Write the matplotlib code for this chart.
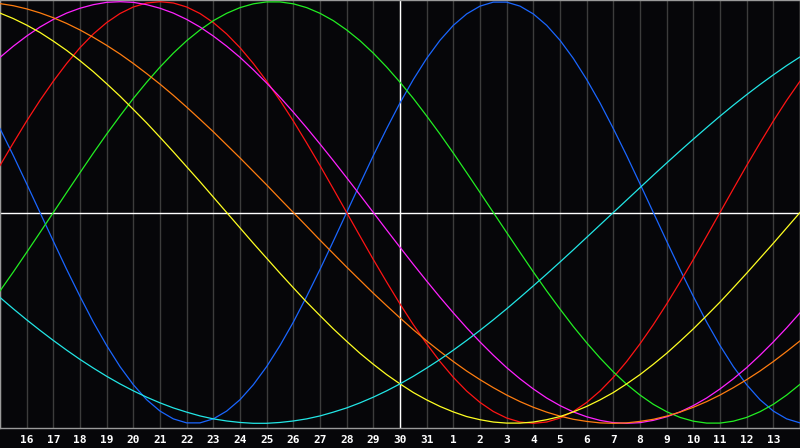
import matplotlib
matplotlib.use('Agg')
import matplotlib.pyplot as plt

# half-day steps from the centre day (30th), -15 .. +15
offsets = [i / 2 for i in range(-30, 31)]
# whole days for the grid and the calendar day shown under each
days = list(range(-15, 16))
day_labels = [15, 16, 17, 18, 19, 20, 21, 22, 23, 24, 25, 26, 27, 28, 29, 30, 31,
              1, 2, 3, 4, 5, 6, 7, 8, 9, 10, 11, 12, 13, 14]

# cycle values (-1 .. 1) every half day
physical = [0.398, 0.270, 0.136, 0.0, -0.136, -0.270, -0.398, -0.520, -0.631, -0.731,
            -0.817, -0.888, -0.942, -0.979, -0.998, -0.998, -0.979, -0.942, -0.888, -0.817,
            -0.731, -0.631, -0.520, -0.398, -0.270, -0.136, 0.0, 0.136, 0.270, 0.398,
            0.520, 0.631, 0.731, 0.817, 0.888, 0.942, 0.979, 0.998, 0.998, 0.979,
            0.942, 0.888, 0.817, 0.731, 0.631, 0.520, 0.398, 0.270, 0.136, 0.0,
            -0.136, -0.270, -0.398, -0.520, -0.631, -0.731, -0.817, -0.888, -0.942, -0.979,
            -0.998]
emotional = [0.223, 0.330, 0.434, 0.532, 0.623, 0.707, 0.782, 0.847, 0.901, 0.944,
             0.975, 0.994, 1.0, 0.994, 0.975, 0.944, 0.901, 0.847, 0.782, 0.707,
             0.623, 0.532, 0.434, 0.330, 0.223, 0.112, 0.0, -0.112, -0.223, -0.330,
             -0.434, -0.532, -0.623, -0.707, -0.782, -0.847, -0.901, -0.944, -0.975, -0.994,
             -1.0, -0.994, -0.975, -0.944, -0.901, -0.847, -0.782, -0.707, -0.623, -0.532,
             -0.434, -0.330, -0.223, -0.112, 0.0, 0.112, 0.223, 0.330, 0.434, 0.532,
             0.623]
intellectual = [-0.372, -0.282, -0.189, -0.095, 0.0, 0.095, 0.189, 0.282, 0.372, 0.458,
                0.541, 0.618, 0.690, 0.756, 0.815, 0.866, 0.910, 0.945, 0.972, 0.990,
                0.999, 0.999, 0.990, 0.972, 0.945, 0.910, 0.866, 0.815, 0.756, 0.690,
                0.618, 0.541, 0.458, 0.372, 0.282, 0.189, 0.095, 0.0, -0.095, -0.189,
                -0.282, -0.372, -0.458, -0.541, -0.618, -0.690, -0.756, -0.815, -0.866, -0.910,
                -0.945, -0.972, -0.990, -0.999, -0.999, -0.990, -0.972, -0.945, -0.910, -0.866,
                -0.815]
intuitive = [0.736, 0.789, 0.837, 0.880, 0.916, 0.946, 0.969, 0.986, 0.997, 1.0,
             0.997, 0.986, 0.969, 0.946, 0.916, 0.880, 0.837, 0.789, 0.736, 0.677,
             0.614, 0.547, 0.476, 0.402, 0.325, 0.246, 0.165, 0.083, 0.0, -0.083,
             -0.165, -0.246, -0.325, -0.402, -0.476, -0.547, -0.614, -0.677, -0.736, -0.789,
             -0.837, -0.880, -0.916, -0.946, -0.969, -0.986, -0.997, -1.0, -0.997, -0.986,
             -0.969, -0.946, -0.916, -0.880, -0.837, -0.789, -0.736, -0.677, -0.614, -0.547,
             -0.476]
aesthetic = [0.946, 0.920, 0.889, 0.854, 0.813, 0.769, 0.720, 0.668, 0.611, 0.552,
             0.489, 0.425, 0.357, 0.288, 0.217, 0.146, 0.073, 0.0, -0.073, -0.146,
             -0.217, -0.288, -0.357, -0.425, -0.489, -0.552, -0.611, -0.668, -0.720, -0.769,
             -0.813, -0.854, -0.889, -0.920, -0.946, -0.968, -0.983, -0.994, -0.999, -0.999,
             -0.994, -0.983, -0.968, -0.946, -0.920, -0.889, -0.854, -0.813, -0.769, -0.720,
             -0.668, -0.611, -0.552, -0.489, -0.425, -0.357, -0.288, -0.217, -0.146, -0.073,
             0.0]
awareness = [0.991, 0.981, 0.966, 0.947, 0.924, 0.897, 0.866, 0.831, 0.793, 0.752,
             0.707, 0.659, 0.609, 0.556, 0.5, 0.442, 0.383, 0.321, 0.259, 0.195,
             0.131, 0.065, 0.0, -0.065, -0.131, -0.195, -0.259, -0.321, -0.383, -0.442,
             -0.5, -0.556, -0.609, -0.659, -0.707, -0.752, -0.793, -0.831, -0.866, -0.897,
             -0.924, -0.947, -0.966, -0.981, -0.991, -0.998, -1.0, -0.998, -0.991, -0.981,
             -0.966, -0.947, -0.924, -0.897, -0.866, -0.831, -0.793, -0.752, -0.707, -0.659,
             -0.609]
spiritual = [-0.403, -0.457, -0.509, -0.559, -0.607, -0.653, -0.697, -0.738, -0.777, -0.813,
             -0.846, -0.876, -0.903, -0.927, -0.947, -0.965, -0.979, -0.989, -0.996, -1.0,
             -1.0, -0.996, -0.989, -0.979, -0.965, -0.947, -0.927, -0.903, -0.876, -0.846,
             -0.813, -0.777, -0.738, -0.697, -0.653, -0.607, -0.559, -0.509, -0.457, -0.403,
             -0.348, -0.292, -0.235, -0.177, -0.118, -0.059, 0.0, 0.059, 0.118, 0.177,
             0.235, 0.292, 0.348, 0.403, 0.457, 0.509, 0.559, 0.607, 0.653, 0.697,
             0.738]

series = [
    (physical, '#1a66ff'),
    (emotional, '#ff1414'),
    (intellectual, '#22ee22'),
    (intuitive, '#ff22ff'),
    (awareness, '#ff7d10'),
    (aesthetic, '#ffff22'),
    (spiritual, '#22e6e6'),
]

bg = '#060609'
fig = plt.figure(figsize=(8, 4.48), dpi=100, facecolor=bg)
ax = fig.add_axes([0, 20 / 448, 1, 428 / 448])
ax.set_facecolor(bg)

# day grid
for d in days:
    ax.axvline(d, color='#3c3c3c', lw=1.0, zorder=1)
ax.axvline(0, color='white', lw=1.0, zorder=2)
ax.axhline(0, color='white', lw=1.0, zorder=2)

for vals, col in series:
    ax.plot(offsets, vals, color=col, lw=0.9, zorder=3)

ax.set_xlim(-15, 15)
ax.set_ylim(-1.0223, 1.0081)
ax.set_yticks([])
ax.set_xticks(days[1:-1])
ax.set_xticklabels([str(d) for d in day_labels[1:-1]],
                   fontfamily='DejaVu Sans Mono', fontweight='bold', fontsize=8, color='white')
ax.tick_params(axis='x', length=0, pad=5)
for s in ax.spines.values():
    s.set_color('#9a9a9a')
    s.set_linewidth(1.0)

fig.savefig('out.png', dpi=100, facecolor=bg)
